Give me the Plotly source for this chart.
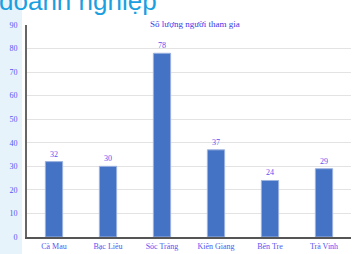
import plotly.graph_objects as go

categories = ["Cà Mau", "Bạc Liêu", "Sóc Trăng", "Kiên Giang", "Bến Tre", "Trà Vinh"]
values = [32, 30, 78, 37, 24, 29]
y_ticks = [0, 10, 20, 30, 40, 50, 60, 70, 80, 90]
title_text = "Số lượng người tham gia"
header_text = "doanh nghiệp"

label_color = "#5555f2"
serif = "Liberation Serif, Times New Roman, serif"

fig = go.Figure()
fig.add_trace(go.Bar(
    x=categories, y=values,
    marker=dict(color="#4472c4", line=dict(color="#9db3e0", width=1)),
    width=0.32,
    text=[str(v) for v in values], textposition="outside",
    textfont=dict(family=serif, size=8, color=label_color),
    cliponaxis=False,
))

fig.update_layout(
    width=354, height=254,
    margin=dict(l=27, r=3, t=25, b=17),
    paper_bgcolor="white", plot_bgcolor="white",
    showlegend=False,
    xaxis=dict(showgrid=False, showline=True, linecolor="#555555", linewidth=2,
               tickfont=dict(family=serif, size=8, color=label_color), ticks="",
               automargin=False, fixedrange=True),
    yaxis=dict(range=[0, 90], tickvals=y_ticks, showgrid=True, gridcolor="#e3e3e3",
               showline=True, linecolor="#666666", linewidth=2, zeroline=False,
               tickfont=dict(family=serif, size=8, color=label_color), ticks="",
               ticklabelstandoff=6, automargin=False),
    shapes=[dict(type="rect", xref="paper", yref="paper", x0=-27/324, x1=-5/324, y0=-17/212, y1=1+25/212,
                 fillcolor="#e7f3fa", line=dict(width=0), layer="below")],
    annotations=[
        dict(text=title_text, xref="paper", yref="paper", x=0.52, y=1 + 1/212, yanchor="middle",
             xanchor="center", showarrow=False,
             font=dict(family=serif, size=9, color="#3a3ae8")),
        dict(text=header_text, xref="paper", yref="paper", x=-30/324, xanchor="left",
             y=1 + 24/212, yanchor="middle", showarrow=False,
             font=dict(family="Liberation Sans, Arial, sans-serif", size=26, color="#1aa0e0")),
    ],
)

fig.write_html("out.html", config={"displayModeBar": False},
               post_script="document.body.style.margin='0';document.body.style.overflow='hidden';")
